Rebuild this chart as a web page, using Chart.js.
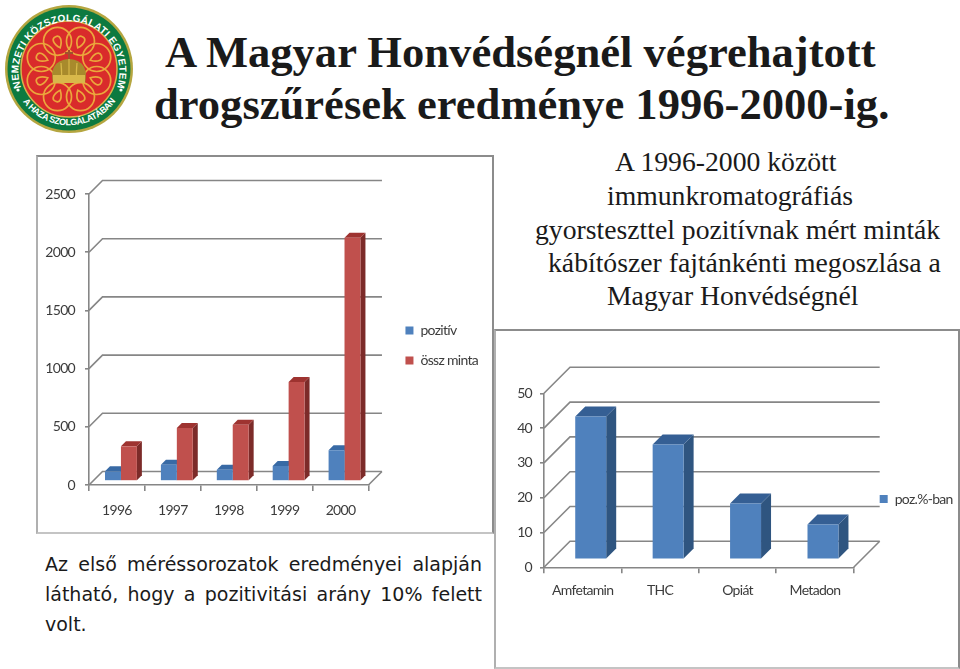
<!DOCTYPE html>
<html lang="hu">
<head>
<meta charset="utf-8">
<title>Drogszűrések 1996-2000</title>
<script src="https://cdn.jsdelivr.net/npm/chart.js@4"></script>
<style>
    html, body { margin: 0; padding: 0; background: #fff; overflow: hidden; }
    body { position: relative; width: 960px; height: 669px; }
    .txt { position: absolute; white-space: nowrap; color: #000; }
    .title { font: bold 44.6px/50px "Liberation Serif", serif; color: #1a1a1a; }
    .side { font: 27.7px/34px "Liberation Serif", serif; color: #1a1a1a; }
    .note { font: 19px/30px "DejaVu Sans", sans-serif; left: 45px; width: 437px; text-align: justify; text-align-last: justify; color: #1a1a1a; }
    .frame { position: absolute; box-sizing: border-box; border: 2px solid #8c8c8c; border-bottom-color: #c4c4c4; border-left-color: #b0b0b0; }
    .box { position: absolute; }
    #logo { position: absolute; left: 0; top: 0; }
</style>
</head>
<body>

<svg id="logo" width="140" height="140" viewBox="0 0 140 140">
    <defs>
        <path id="arcTop" d="M 21 87.5 A 50.5 50.5 0 1 1 117 87.5"/>
        <path id="arcBottom" d="M 21.7 100 A 57 57 0 0 0 116.3 100"/>
    </defs>
    <circle cx="69" cy="69" r="64" fill="#b5a640"/>
    <circle cx="69" cy="69" r="61.5" fill="#0c7a40"/>
    <circle cx="69" cy="69" r="48" fill="#d92b2b" stroke="#d9b24a" stroke-width="1.5"/>
    <g id="knot" fill="none" stroke="#eba63c" stroke-width="1.7"></g>
    <path d="M53 83 C50 70 54 60 69 59 C84 60 88 70 85 83 Z" fill="#a88a2c"/>
    <path d="M61 63 C62 72 62 76 61 83 M77 63 C76 72 76 76 77 83 M69 59 V83" stroke="#d8b84a" stroke-width="1.2" fill="none"/>
    <rect x="53" y="75" width="32" height="8" fill="#d8b84a"/>
    <path d="M69 50 V59 M65 53 H73" stroke="#a0522d" stroke-width="2"/>
    <circle cx="18" cy="90" r="1.6" fill="#fff"/>
    <circle cx="121" cy="90" r="1.6" fill="#fff"/>
    <text font-family="Liberation Sans" font-weight="bold" font-size="10" fill="#fff">
        <textPath href="#arcTop" textLength="190" lengthAdjust="spacing">NEMZETI KÖZSZOLGÁLATI EGYETEM</textPath>
    </text>
    <text font-family="Liberation Sans" font-weight="bold" font-size="9" fill="#fff">
        <textPath href="#arcBottom" startOffset="2" textLength="108" lengthAdjust="spacing">A HAZA SZOLGÁLATÁBAN</textPath>
    </text>
</svg>

<div class="txt title" style="left:165px;top:27px">A Magyar Honvédségnél végrehajtott</div>
<div class="txt title" style="left:154px;top:79px">drogszűrések eredménye 1996-2000-ig.</div>

<div class="txt side" style="left:615px;top:145px">A 1996-2000 között</div>
<div class="txt side" style="left:607px;top:179px">immunkromatográfiás</div>
<div class="txt side" style="left:535px;top:213px">gyorsteszttel pozitívnak mért minták</div>
<div class="txt side" style="left:548px;top:246px">kábítószer fajtánkénti megoszlása a</div>
<div class="txt side" style="left:607px;top:279px">Magyar Honvédségnél</div>

<div class="txt note" style="top:549px">Az első méréssorozatok eredményei alapján</div>
<div class="txt note" style="top:579px">látható, hogy a pozitivitási arány 10% felett</div>
<div class="txt note" style="top:609px;text-align-last:left">volt.</div>

<div class="frame" style="left:36px;top:155px;width:458px;height:379px"></div>
<div class="frame" style="left:494px;top:329px;width:466px;height:340px"></div>

<div class="box" style="left:37px;top:155px;width:456px;height:381px"><canvas id="yearChart"></canvas></div>
<div class="box" style="left:494px;top:330px;width:465px;height:338px"><canvas id="drugChart"></canvas></div>

<script>

//
// Data
//

const years = ["1996", "1997", "1998", "1999", "2000"];
const pozitiv = [83, 140, 97, 129, 264];
const osszMinta = [298, 455, 484, 851, 2089];

const drugs = ["Amfetamin", "THC", "Opiát", "Metadon"];
const pozSzazalek = [41, 33, 16, 10];

const TICK_FONT = { family: "Lato, sans-serif", size: 14 };
const GRID_COLOR = "#868686";
const TEXT_COLOR = "#3c3c3c";

//
// Fake 3D: back wall, floor and the side/top faces of every bar
//

function make3dPlugin(cfg) {

    return {
        id: "fake3d",

        afterLayout(chart) {
            // legend sits further out than Chart.js would put it
            const legend = chart.legend;
            legend.left = chart.chartArea.right + cfg.legendGap;
            legend.right = chart.width;
            legend.top += cfg.legendShift;
            legend.bottom += cfg.legendShift;
        },

        beforeDraw(chart) {
            // the labels in the picture are a condensed face
            chart.ctx.letterSpacing = "-0.7px";
        },

        beforeDatasetsDraw(chart) {

            const { ctx, chartArea: { left, right, bottom }, scales: { y } } = chart;

            ctx.save();
            ctx.strokeStyle = GRID_COLOR;
            ctx.lineWidth = 1.6;

            // walls
            y.ticks.forEach(t => {
                const yPos = y.getPixelForValue(t.value);
                ctx.beginPath();
                ctx.moveTo(left, yPos);
                ctx.lineTo(left + cfg.wall, yPos - cfg.wall);
                ctx.lineTo(right + cfg.wall, yPos - cfg.wall);
                ctx.stroke();
            });

            // floor right edge
            ctx.beginPath();
            ctx.moveTo(right, bottom);
            ctx.lineTo(right + cfg.wall, bottom - cfg.wall);
            ctx.stroke();
            ctx.restore();

            // everything the bars draw is pushed half way into the floor
            ctx.save();
            ctx.translate(cfg.inset, -cfg.inset);

            chart.data.datasets.forEach((ds, i) => {

                chart.getDatasetMeta(i).data.forEach(bar => {

                    const x0 = bar.x - bar.width / 2;
                    const x1 = bar.x + bar.width / 2;
                    const d = cfg.depth;

                    // side
                    ctx.fillStyle = ds.sideColor;
                    ctx.beginPath();
                    ctx.moveTo(x1, bar.y);
                    ctx.lineTo(x1 + d, bar.y - d);
                    ctx.lineTo(x1 + d, bar.base - d);
                    ctx.lineTo(x1, bar.base);
                    ctx.closePath();
                    ctx.fill();

                    // top
                    ctx.fillStyle = ds.topColor;
                    ctx.beginPath();
                    ctx.moveTo(x0, bar.y);
                    ctx.lineTo(x0 + d, bar.y - d);
                    ctx.lineTo(x1 + d, bar.y - d);
                    ctx.lineTo(x1, bar.y);
                    ctx.closePath();
                    ctx.fill();
                });
            });
        },

        afterDatasetsDraw(chart) {
            chart.ctx.restore();
        }
    };
}

function buildChart(canvasId, labels, datasets, cfg) {

    return new Chart(document.getElementById(canvasId), {
        type: "bar",
        data: { labels, datasets },
        plugins: [make3dPlugin(cfg)],
        options: {
            responsive: true,
            maintainAspectRatio: false,
            animation: false,
            layout: {
                autoPadding: false,
                padding: { left: 0, right: cfg.padRight, top: cfg.padTop, bottom: cfg.padBottom }
            },
            datasets: {
                bar: { categoryPercentage: cfg.catPct, barPercentage: 1, clip: false }
            },
            scales: {
                x: {
                    afterFit: s => { s.height = cfg.xHeight; },
                    border: { color: GRID_COLOR, width: 1.6 },
                    grid: { drawOnChartArea: false, color: GRID_COLOR, lineWidth: 1.6, tickLength: 6 },
                    ticks: { font: TICK_FONT, color: TEXT_COLOR, padding: cfg.xPad, maxRotation: 0 }
                },
                y: {
                    min: 0,
                    max: cfg.yMax,
                    afterFit: s => { s.width = cfg.yWidth; },
                    border: { color: GRID_COLOR, width: 1.6 },
                    grid: { drawOnChartArea: false, color: GRID_COLOR, lineWidth: 1.6, tickLength: 4 },
                    ticks: {
                        font: TICK_FONT,
                        color: TEXT_COLOR,
                        stepSize: cfg.yStep,
                        padding: cfg.yPad,
                        callback: value => String(value)
                    }
                }
            },
            plugins: {
                tooltip: { enabled: false },
                legend: {
                    position: "right",
                    labels: { font: TICK_FONT, color: TEXT_COLOR, boxWidth: 8, boxHeight: 8, padding: 16 }
                }
            }
        }
    });
}

buildChart("yearChart", years, [
    { label: "pozitív", data: pozitiv, backgroundColor: "#4F81BD", sideColor: "#355C8C", topColor: "#386AA5" },
    { label: "össz minta", data: osszMinta, backgroundColor: "#C0504D", sideColor: "#7C2B29", topColor: "#9E3330" }
], { wall: 13.5, inset: 4, depth: 5, catPct: 0.57, yMax: 2500, yStep: 500, padTop: 39, padBottom: 0, xHeight: 51, yWidth: 52, padRight: 19, xPad: 11, yPad: 10, legendGap: 21, legendShift: -19.5 });

buildChart("drugChart", drugs, [
    { label: "poz.%-ban", data: pozSzazalek, backgroundColor: "#4F81BD", sideColor: "#2F5580", topColor: "#355F94" }
], { wall: 26, inset: 8, depth: 10, catPct: 0.4, yMax: 50, yStep: 10, padTop: 63.3, padBottom: 63.3, xHeight: 37.4, yWidth: 50, padRight: 0, xPad: 9, yPad: 8, legendGap: 10, legendShift: 0 });

//
// Logo knot: eight interlaced rings with a small drop inside
//

const SVG_NS = "http://www.w3.org/2000/svg";
const knot = document.getElementById("knot");

for (let i = 0; i < 8; i++) {

    const a = i * Math.PI / 4 + Math.PI / 8;
    const cx = 69 + 30 * Math.cos(a);
    const cy = 69 + 30 * Math.sin(a);

    const ring = document.createElementNS(SVG_NS, "circle");
    ring.setAttribute("cx", cx);
    ring.setAttribute("cy", cy);
    ring.setAttribute("r", 14);
    knot.appendChild(ring);

    const drop = document.createElementNS(SVG_NS, "path");
    drop.setAttribute("d", "M0 -7 C5 -1 5 5 0 5 C-5 5 -5 -1 0 -7 Z");
    drop.setAttribute("transform", `translate(${cx} ${cy}) rotate(${i * 45 + 22.5 - 90})`);
    knot.appendChild(drop);
}

</script>
</body>
</html>
